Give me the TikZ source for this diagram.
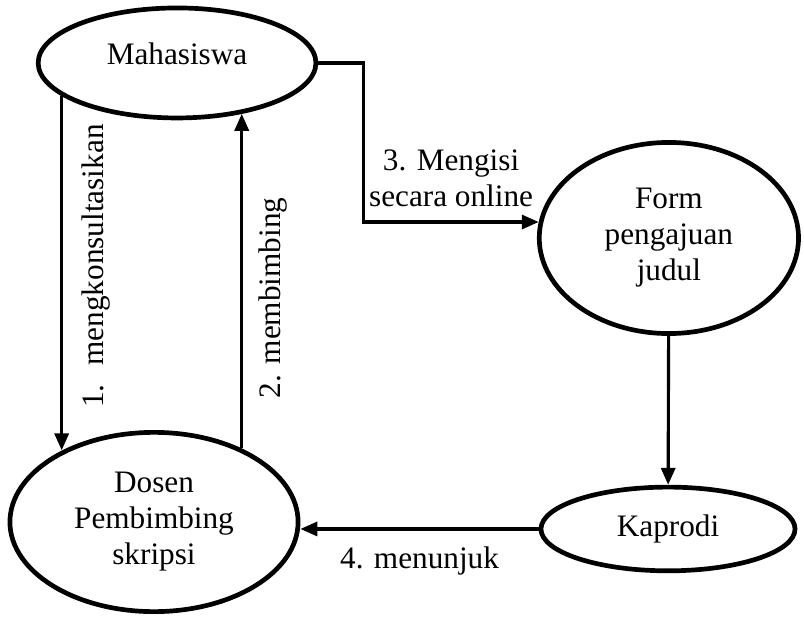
\documentclass[tikz,border=0pt]{standalone}
\usepackage{fontspec}
\setmainfont{Liberation Serif}
\usepackage{tikz}
\usetikzlibrary{shapes,positioning,calc}
\usetikzlibrary{shapes.geometric, arrows}
\usetikzlibrary{arrows.meta}
\tikzstyle{proses} = [ellipse, line width=1.8pt, inner sep=0pt, text centered, align=center, draw=black]
\tikzstyle{arrow} = [line width=1.2pt,-{Triangle[length=6.5pt,width=5.4pt]}]

\begin{document}
\begin{tikzpicture}[font=\fontsize{12}{13.8}\selectfont]
							\useasboundingbox (0,0) rectangle (10.854,8.316);
							\node (maha) at (2.39,7.466) [proses, minimum width=3.75cm, minimum height=1.485cm, text depth=7.5pt] {Mahasiswa};
							\node (form) at (9.03,5.103) [proses, minimum width=3.5cm, minimum height=2.58cm] {Form\\pengajuan\\judul};
							\node (kaprodi) at (9.018,1.175) [proses, minimum width=3.43cm, minimum height=1.13cm] {Kaprodi};
							\node (dosen) at (2.079,1.269) [proses, minimum width=3.89cm, minimum height=2.42cm] {Dosen\\Pembimbing\\skripsi};
							\draw [arrow] (maha.196) -- (maha.196 |- dosen.142) node[pos=0.48,rotate=90,anchor=north,inner sep=7pt] {1.\hspace{0.6em}mengkonsultasikan} ;
							\draw [arrow] (dosen.40) -- (dosen.40 |- maha.322) node[pos=0.45,rotate=90,anchor=north,inner sep=6pt] {2. membimbing} ;
							\draw [arrow] (maha.east) -- ++(0.61,0) |- (form.173) node[pos=0.75,above=2pt,align=center] {3. Mengisi\\secara online} ;
							\draw [arrow] (form) -- (kaprodi) ;
							\draw [arrow] (kaprodi.west) -- (kaprodi.west -| dosen.east) node[midway,below=3pt] {4. menunjuk} ;
						\end{tikzpicture}
\end{document}
